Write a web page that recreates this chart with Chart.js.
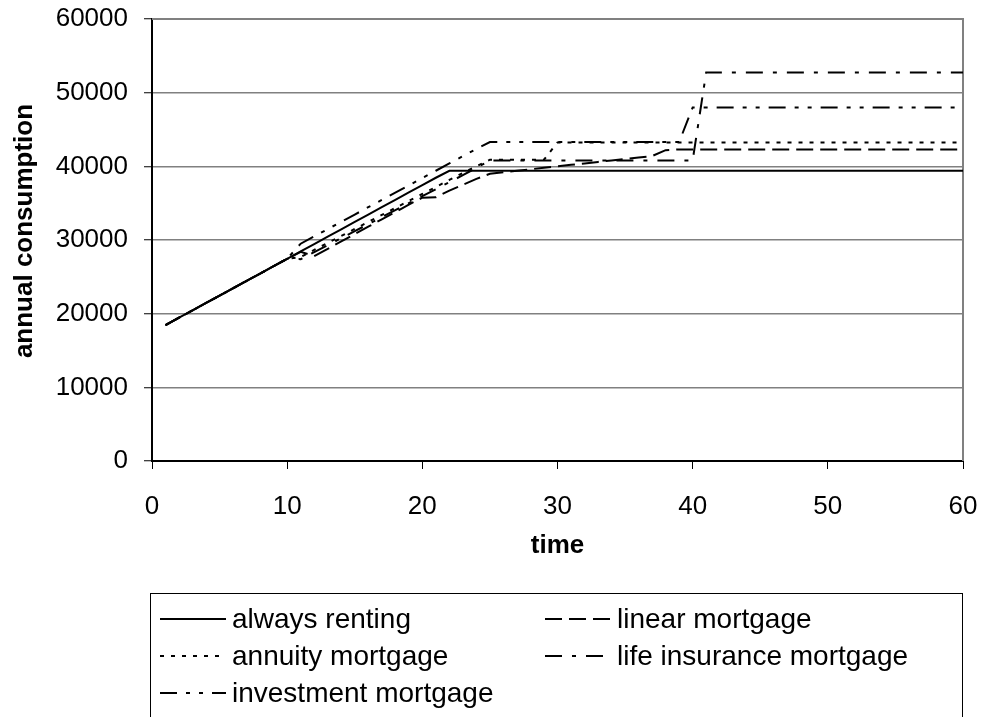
<!DOCTYPE html>
<html>
<head>
<meta charset="utf-8">
<script src="https://cdn.jsdelivr.net/npm/chart.js@4.4.1/dist/chart.umd.min.js"></script>
<style>
  html, body { margin: 0; padding: 0; background: #ffffff; }
  canvas { display: block; }
</style>
</head>
<body>
<canvas id="chart" width="983" height="717" style="width:983px;height:717px"></canvas>
<script>
// time (years)
const years = [1, 2, 3, 4, 5, 6, 7, 8, 9, 10,
  11, 12, 13, 14, 15, 16, 17, 18, 19, 20,
  21, 22, 23, 24, 25, 26, 27, 28, 29, 30,
  31, 32, 33, 34, 35, 36, 37, 38, 39, 40,
  41, 42, 43, 44, 45, 46, 47, 48, 49, 50,
  51, 52, 53, 54, 55, 56, 57, 58, 59, 60];

// annual consumption per housing choice
const alwaysRenting = [18450, 19450, 20450, 21450, 22450, 23450, 24450, 25450, 26450, 27450,
  28450, 29450, 30450, 31450, 32450, 33450, 34450, 35450, 36450, 37450,
  38450, 39400, 39400, 39400, 39400, 39400, 39400, 39400, 39400, 39400,
  39400, 39400, 39400, 39400, 39400, 39400, 39400, 39400, 39400, 39400,
  39400, 39400, 39400, 39400, 39400, 39400, 39400, 39400, 39400, 39400,
  39400, 39400, 39400, 39400, 39400, 39400, 39400, 39400, 39400, 39400];

const linearMortgage = [18450, 19450, 20450, 21450, 22450, 23450, 24450, 25450, 26450, 27450,
  28400, 27800, 28800, 29800, 30800, 31800, 32800, 33800, 34800, 35750,
  35800, 36700, 37500, 38300, 39000, 39200, 39400, 39600, 39800, 40000,
  40200, 40400, 40600, 40800, 41000, 41200, 41400, 42200, 42300, 42300,
  42300, 42300, 42300, 42300, 42300, 42300, 42300, 42300, 42300, 42300,
  42300, 42300, 42300, 42300, 42300, 42300, 42300, 42300, 42300, 42300];

const annuityMortgage = [18450, 19450, 20450, 21450, 22450, 23450, 24450, 25450, 26450, 27450,
  27700, 28650, 29600, 30550, 31500, 32450, 33400, 34350, 35300, 36250,
  37200, 38150, 39100, 40000, 40900, 40900, 40900, 40900, 40900, 43250,
  43250, 43250, 43250, 43250, 43250, 43250, 43250, 43250, 43250, 43250,
  43250, 43250, 43250, 43250, 43250, 43250, 43250, 43250, 43250, 43250,
  43250, 43250, 43250, 43250, 43250, 43250, 43250, 43250, 43250, 43250];

const lifeInsuranceMortgage = [18450, 19450, 20450, 21450, 22450, 23450, 24450, 25450, 26450, 27450,
  27400, 28350, 29300, 30250, 31200, 32150, 33100, 34050, 35000, 35950,
  36900, 37850, 38800, 39800, 40800, 40800, 40800, 40800, 40800, 40800,
  40800, 40800, 40800, 40800, 40800, 40800, 40800, 40800, 40800, 40800,
  52750, 52750, 52750, 52750, 52750, 52750, 52750, 52750, 52750, 52750,
  52750, 52750, 52750, 52750, 52750, 52750, 52750, 52750, 52750, 52750];

const investmentMortgage = [18450, 19450, 20450, 21450, 22450, 23450, 24450, 25450, 26450, 27450,
  29500, 30490, 31480, 32470, 33460, 34450, 35440, 36430, 37420, 38410,
  39400, 40390, 41380, 42370, 43300, 43300, 43300, 43300, 43300, 43300,
  43300, 43300, 43300, 43300, 43300, 43300, 43300, 43300, 43300, 48000,
  48000, 48000, 48000, 48000, 48000, 48000, 48000, 48000, 48000, 48000,
  48000, 48000, 48000, 48000, 48000, 48000, 48000, 48000, 48000, 48000];

const seriesNames = ['always renting', 'linear mortgage', 'annuity mortgage',
  'life insurance mortgage', 'investment mortgage'];
const seriesValues = [alwaysRenting, linearMortgage, annuityMortgage,
  lifeInsuranceMortgage, investmentMortgage];
const seriesDashes = [[], [17, 7], [4, 7], [17, 10, 4, 10], [17, 9, 4, 9, 4, 9]];

const yTicks = [0, 10000, 20000, 30000, 40000, 50000, 60000];
const xTicks = [0, 10, 20, 30, 40, 50, 60];
const yTitle = 'annual consumption';

const FONT = '"Liberation Sans", Arial, Helvetica, sans-serif';

// gray frame on the top and right of the plot area
const plotFrame = {
  id: 'plotFrame',
  beforeDatasetsDraw(chart) {
    const { ctx, chartArea: a } = chart;
    ctx.save();
    ctx.strokeStyle = '#808080';
    ctx.lineWidth = 2;
    ctx.beginPath();
    ctx.moveTo(a.left, a.top);
    ctx.lineTo(a.right, a.top);
    ctx.lineTo(a.right, a.bottom);
    ctx.stroke();
    ctx.restore();
  }
};

// rotated value-axis title, sitting a little above the plot's middle
const valueTitle = {
  id: 'valueTitle',
  afterDraw(chart) {
    const ctx = chart.ctx;
    ctx.save();
    ctx.translate(25, 231);
    ctx.rotate(-Math.PI / 2);
    ctx.font = 'bold 26px ' + FONT;
    ctx.fillStyle = '#000';
    ctx.textAlign = 'center';
    ctx.textBaseline = 'middle';
    ctx.fillText(yTitle, 0, 0);
    ctx.restore();
  }
};

// boxed two-column legend under the axis title
const boxLegend = {
  id: 'boxLegend',
  afterDraw(chart) {
    const ctx = chart.ctx;
    const slots = [
      { x: 160, y: 619 }, { x: 545, y: 619 },
      { x: 160, y: 656 }, { x: 545, y: 656 },
      { x: 160, y: 693 }
    ];
    ctx.save();
    ctx.strokeStyle = '#000';
    ctx.lineWidth = 1;
    ctx.strokeRect(150.5, 593.5, 812, 200);
    ctx.font = '28px ' + FONT;
    ctx.fillStyle = '#000';
    ctx.textBaseline = 'middle';
    ctx.textAlign = 'left';
    chart.data.datasets.forEach((ds, i) => {
      const s = slots[i];
      ctx.save();
      ctx.strokeStyle = ds.borderColor;
      ctx.lineWidth = ds.borderWidth;
      ctx.setLineDash(ds.borderDash || []);
      ctx.beginPath();
      ctx.moveTo(s.x, s.y);
      ctx.lineTo(s.x + 66, s.y);
      ctx.stroke();
      ctx.restore();
      ctx.fillText(ds.label, s.x + 72, s.y + 1);
    });
    ctx.restore();
  }
};

const datasets = seriesNames.map((name, i) => ({
  label: name,
  data: years.map((t, j) => ({ x: t, y: seriesValues[i][j] })),
  borderColor: '#000000',
  borderWidth: 2,
  borderDash: seriesDashes[i],
  pointRadius: 0,
  pointHoverRadius: 0,
  tension: 0,
  fill: false
}));

new Chart(document.getElementById('chart'), {
  type: 'line',
  data: { datasets },
  options: {
    responsive: false,
    devicePixelRatio: 1,
    animation: false,
    events: [],
    layout: { padding: { top: 19, right: 20, bottom: 0, left: 0 } },
    plugins: {
      legend: { display: false },
      tooltip: { enabled: false }
    },
    scales: {
      x: {
        type: 'linear',
        min: 0,
        max: 60,
        afterBuildTicks(scale) { scale.ticks = xTicks.map(v => ({ value: v })); },
        afterFit(scale) {
          scale.height = 256;
          scale.paddingLeft = 0;
          scale.paddingRight = 0;
        },
        grid: { drawOnChartArea: false, drawTicks: true, tickLength: 8, tickColor: '#000', tickWidth: 1 },
        border: { display: true, color: '#000', width: 2 },
        ticks: { color: '#000', font: { family: FONT, size: 26 }, padding: 22, maxRotation: 0 },
        title: { display: true, text: 'time', color: '#000', font: { family: FONT, size: 26, weight: 'bold' }, padding: { top: 0, bottom: 156 } }
      },
      y: {
        type: 'linear',
        min: 0,
        max: 60000,
        afterBuildTicks(scale) { scale.ticks = yTicks.map(v => ({ value: v })); },
        afterFit(scale) {
          scale.width = 152;
          scale.paddingTop = 0;
          scale.paddingBottom = 0;
        },
        grid: { color: '#808080', lineWidth: 1.5, drawTicks: true, tickLength: 8, tickColor: '#000', tickWidth: 1 },
        border: { display: true, color: '#000', width: 2 },
        ticks: { color: '#000', font: { family: FONT, size: 26 }, padding: 16, callback: v => String(v) },
        title: { display: false }
      }
    }
  },
  plugins: [plotFrame, valueTitle, boxLegend]
});
</script>
</body>
</html>
